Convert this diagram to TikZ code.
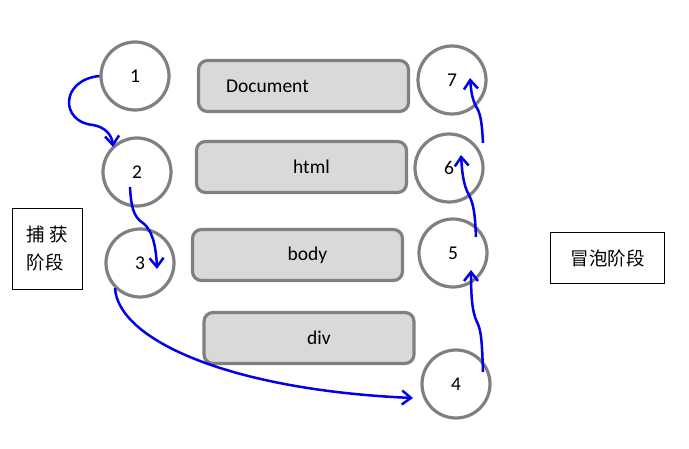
\documentclass[tikz,border=0pt]{standalone}
\usepackage{fontspec}
\setmainfont{Carlito}
\newfontfamily\cjk{Noto Sans CJK SC}
\usetikzlibrary{arrows.meta}
\definecolor{ringgray}{RGB}{128,128,128}
\definecolor{boxfill}{RGB}{217,217,217}
\definecolor{flowblue}{RGB}{0,0,235}

\begin{document}
\begin{tikzpicture}[x=1pt, y=-1pt, font=\fontsize{19.5}{22}\selectfont,
    ring/.style={circle, draw=ringgray, line width=3.2pt, minimum size=68pt, inner sep=0pt},
    elem/.style={draw=ringgray, fill=boxfill, line width=3.2pt, rounded corners=9pt, minimum width=210pt, minimum height=51pt, inner sep=0pt},
    stage/.style={draw, line width=0.8pt, font=\cjk\fontsize{18.5}{28}\selectfont},
    flow/.style={draw=flowblue, line width=2.5pt, -{Straight Barb[length=9pt,width=14pt]}}]
    \useasboundingbox (0,0) rectangle (689,449);

    % element boxes
    \node[elem] (doc)  at (303.5,86)  {Document\hspace*{72pt}};
    \node[elem] (html) at (301.5,167) {\hspace*{20pt}html};
    \node[elem] (body) at (297.5,255) {\hspace*{20pt}body};
    \node[elem] (div)  at (309,338)   {\hspace*{20pt}div};

    % capture side
    \node[ring] (c1) at (135,76)  {1};
    \node[ring] (c2) at (137,172) {2};
    \node[ring] (c3) at (140,263) {3};
    % bubble side
    \node[ring] (c4) at (456,384) {4};
    \node[ring] (c5) at (453,253) {5};
    \node[ring] (c6) at (449,168) {6};
    \node[ring] (c7) at (452,80)  {7};

    \node[stage, minimum width=70pt, minimum height=81pt, align=left] (capture) at (47.5,249) {捕 获\\阶段};
    \node[stage, minimum width=114pt, minimum height=51pt] (bubble) at (607.5,258) {冒泡阶段};

    \draw[flow] (c1.west) .. controls (60,80) and (60,122) .. (93,125)
        .. controls (105,127) and (112,135) .. ([shift={(-24,-25)}]c2.center);
    \draw[flow] ([shift={(-7,15)}]c2.center) .. controls (131,205) and (133,217) .. (143,223)
        .. controls (152,230) and (156,245) .. ([shift={(17,6)}]c3.center);
    \draw[flow] ([shift={(-25,25)}]c3.center) .. controls (118,340) and (230,390) .. ([shift={(-43,14)}]c4.center);
    \draw[flow] ([shift={(27,-12)}]c4.center) .. controls (482,340) and (481,330) .. (477,322)
        .. controls (472,312) and (471,295) .. ([shift={(18,17)}]c5.center);
    \draw[flow] ([shift={(23,-16)}]c5.center) .. controls (475,215) and (474,205) .. (469,195)
        .. controls (463,185) and (462,170) .. ([shift={(12,-13)}]c6.center);
    \draw[flow] ([shift={(34,-25)}]c6.center) .. controls (482,125) and (481,115) .. (477,108)
        .. controls (472,100) and (471,90) .. ([shift={(18,-2)}]c7.center);
\end{tikzpicture}
\end{document}
